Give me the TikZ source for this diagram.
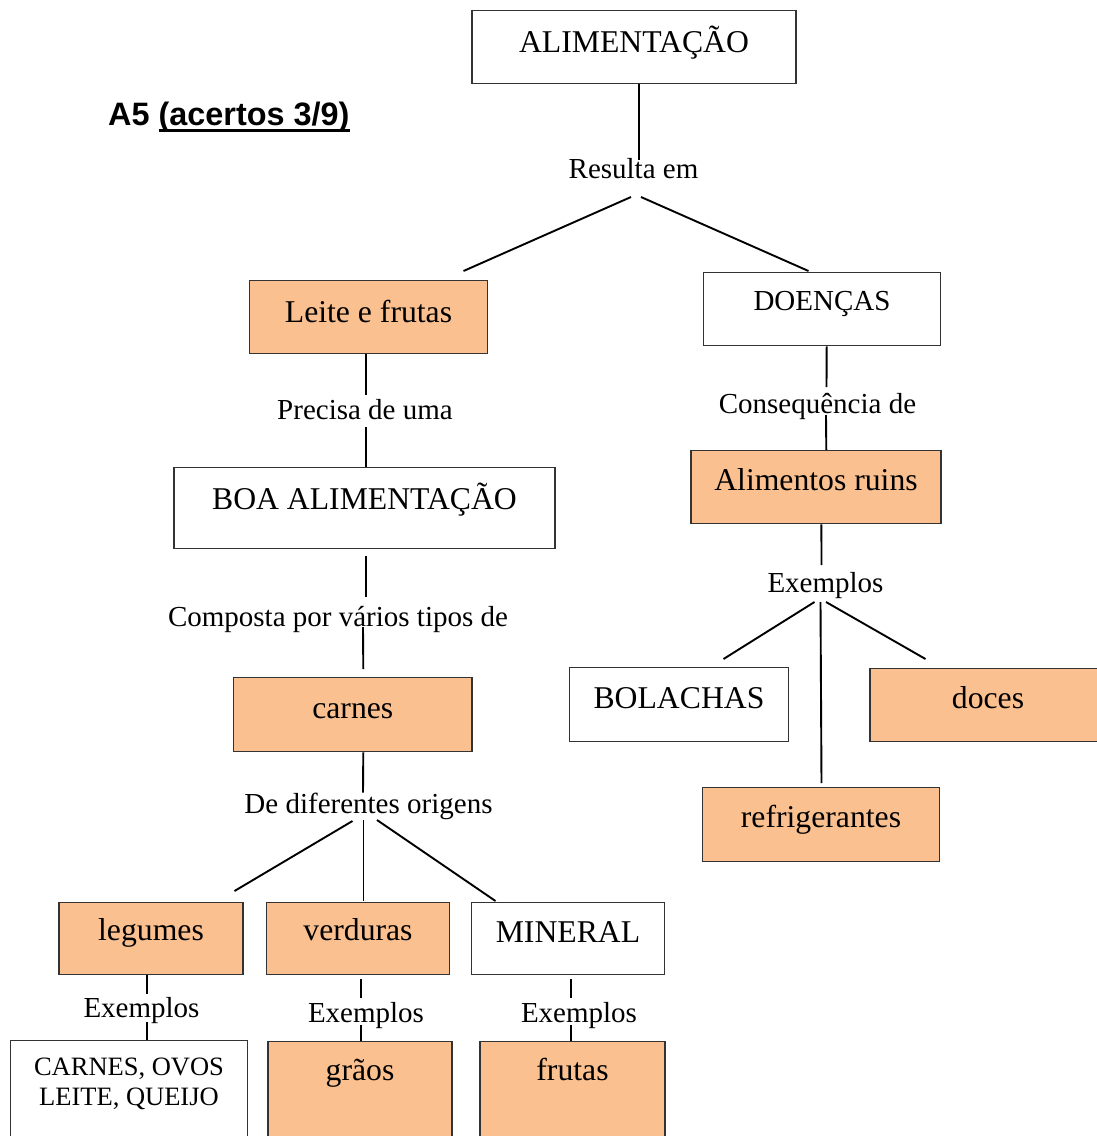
\documentclass[tikz,border=0pt]{standalone}
\usepackage{fontspec}
\setmainfont{Liberation Serif}
\newfontfamily\arialfont{Liberation Sans}
\usetikzlibrary{calc}

\definecolor{tanfill}{HTML}{FAC090}
\definecolor{edgegray}{HTML}{333333}

\newcommand\boxfont{\fontsize{31.7}{36}\selectfont}
\newcommand\linkfont{\fontsize{29}{34}\selectfont}
\newcommand\listfont{\fontsize{26.5}{30}\selectfont}
\newcommand\titlefont{\arialfont\bfseries\fontsize{32.4}{38}\selectfont}
% underline drawn as a rule under the word group
\newcommand\titleul[1]{\setbox0=\hbox{#1}\rlap{\rule[-6.7pt]{\wd0}{3.2pt}}\box0}

\begin{document}
\begin{tikzpicture}[x=1pt,y=-1pt,
  box/.style={draw=edgegray, line width=1.4pt, inner xsep=0pt, inner ysep=0pt,
              anchor=north, font=\boxfont},
  tan/.style={fill=tanfill},
  link/.style={inner sep=0pt, anchor=base, font=\linkfont},
  conn/.style={line width=1.9pt, black}]

\useasboundingbox (0,0) rectangle (1096,1136);

% title
\node[anchor=base west, inner sep=0pt, font=\titlefont] (title) at (108,125)
  {A5 \titleul{(acertos 3/9)}};

% concept boxes
\node[box, minimum width=324pt, text height=42pt, text depth=31pt] (alim) at (634,10) {ALIMENTAÇÃO};
\node[box, tan, minimum width=237.5pt, text height=42pt, text depth=31pt] (leite) at (368.5,280) {Leite e frutas};
\node[box, minimum width=237.5pt, text height=38pt, text depth=35pt, font=\linkfont] (doen) at (822,272) {DOENÇAS};
\node[box, minimum width=381pt, text height=42pt, text depth=39pt] (boa) at (364.5,467) {BOA ALIMENTAÇÃO};
\node[box, tan, minimum width=238.5pt, text height=41pt, text depth=33pt] (carn) at (352.8,677) {carnes};
\node[box, tan, minimum width=250pt, text height=40pt, text depth=33pt] (ruins) at (816,450) {Alimentos ruins};
\node[box, minimum width=218.5pt, text height=41pt, text depth=33pt] (bol) at (679,667) {BOLACHAS};
\node[box, tan, minimum width=236pt, text height=40pt, text depth=33pt] (doces) at (988,668) {doces};
\node[box, tan, minimum width=237.5pt, text height=40pt, text depth=34pt] (refr) at (821,787) {refrigerantes};
\node[box, tan, minimum width=184pt, text height=38pt, text depth=34pt] (leg) at (151,902) {legumes};
\node[box, tan, minimum width=183.5pt, text height=38pt, text depth=34pt] (verd) at (358,902) {verduras};
\node[box, minimum width=193.5pt, text height=40pt, text depth=32pt] (min) at (568,902) {MINERAL};
\node[box, minimum width=237.5pt, text height=65pt, text depth=60pt, align=center, font=\listfont] (cq) at (129,1040)
  {CARNES, OVOS\\LEITE, QUEIJO};
\node[box, tan, minimum width=184pt, text height=39pt, text depth=60pt] (grao) at (360,1041) {grãos};
\node[box, tan, minimum width=185pt, text height=39pt, text depth=60pt] (frut) at (572.5,1041) {frutas};

% linking phrases
\node[link] (res)  at (633.5,178) {Resulta em};
\node[link] (prec) at (365,419)   {Precisa de uma};
\node[link] (comp) at (338,626)   {Composta por vários tipos de};
\node[link] (orig) at (368.5,813) {De diferentes origens};
\node[link] (cons) at (817.5,413) {Consequência de};
\node[link] (ex0)  at (825.5,592) {Exemplos};
\node[link] (ex1)  at (141.5,1017) {Exemplos};
\node[link] (ex2)  at (366,1022)  {Exemplos};
\node[link] (ex3)  at (579,1022)  {Exemplos};

% connectors
\draw[conn] ($(alim.south)+(5,0)$) -- ($(res.base)+(5.5,-18)$);
\draw[conn] ($(res.base)+(-2.5,19)$) -- ($(leite.north)+(95,-9)$);
\draw[conn] ($(res.base)+(7.5,19)$) -- ($(doen.north)+(-13.5,-1)$);

\draw[conn] ($(leite.south)+(-2.5,0)$) -- ($(prec.base)+(1,-24)$);
\draw[conn] ($(prec.base)+(1,8)$) -- ($(boa.north)+(1.5,0)$);

\draw[conn] ($(boa.south)+(1.5,7)$) -- ($(comp.base)+(28,-29)$);
\draw[conn] ($(comp.base)+(25,1)$) -- ($(carn.north)+(10.5,-8)$);

\draw[conn] ($(carn.south)+(10.5,0)$) -- ($(orig.base)+(-5.5,-20.5)$);
\draw[conn] ($(orig.base)+(-16,8)$) -- ($(leg.north)+(83.5,-11)$);
\draw[conn] ($(orig.base)+(-5,7)$) -- ($(verd.north)+(5.5,-1)$);
\draw[conn] ($(orig.base)+(8.5,7)$) -- ($(min.north)+(-72.5,-1)$);

\draw[conn] ($(leg.south)+(-4,0)$) -- ($(ex1.base)+(5.5,-23)$);
\draw[conn] ($(ex1.base)+(5.5,5)$) -- ($(cq.north)+(18,0)$);
\draw[conn] ($(verd.south)+(2.7,4)$) -- ($(ex2.base)+(-5.3,-24)$);
\draw[conn] ($(ex2.base)+(-5.3,3)$) -- ($(grao.north)+(0.7,0)$);
\draw[conn] ($(min.south)+(3,4)$) -- ($(ex3.base)+(-8,-24)$);
\draw[conn] ($(ex3.base)+(-8,3)$) -- ($(frut.north)+(-1.5,0)$);

\draw[conn] ($(doen.south)+(4.7,0)$) -- ($(cons.base)+(9,-26)$);
\draw[conn] ($(cons.base)+(8.5,2)$) -- ($(ruins.north)+(10.3,0)$);
\draw[conn] ($(ruins.south)+(5.4,0)$) -- ($(ex0.base)+(-4,-27)$);
\draw[conn] ($(ex0.base)+(-11,10)$) -- ($(bol.north)+(44.5,-8)$);
\draw[conn] ($(ex0.base)+(-5,10)$) -- ($(refr.north)+(0.5,-4)$);
\draw[conn] ($(ex0.base)+(0.5,10)$) -- ($(doces.north)+(-62.5,-9)$);
\end{tikzpicture}
\end{document}
